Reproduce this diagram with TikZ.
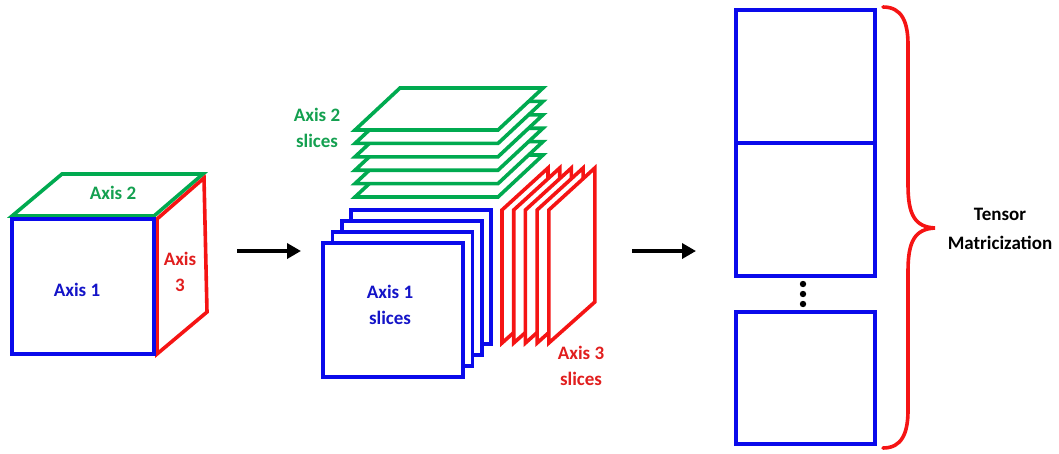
\documentclass[tikz,border=0pt]{standalone}
\usepackage{fontspec}
\setmainfont{Carlito}
\usetikzlibrary{arrows.meta}
\definecolor{cblue}{RGB}{10,10,235}
\definecolor{cgreen}{RGB}{0,170,80}
\definecolor{cred}{RGB}{245,20,20}
\definecolor{tblue}{RGB}{20,20,200}
\definecolor{tgreen}{RGB}{20,160,80}
\definecolor{tred}{RGB}{225,30,30}
\begin{document}
\begin{tikzpicture}[x=1pt,y=-1pt]
\tikzset{
  edge/.style={line width=3.6pt},
  blueface/.style={edge, draw=cblue, fill=white},
  greenface/.style={edge, draw=cgreen, fill=white},
  redface/.style={edge, draw=cred, fill=white},
  lbl/.style={font=\fontsize{19}{26}\selectfont\bfseries, align=center, inner sep=0pt},
  arr/.style={line width=4pt, -{Triangle[length=14pt,width=15pt]}},
  dot/.style={fill=black}
}
\useasboundingbox (0,0) rectangle (1059,453);

% --- cube ---
\draw[greenface] (12,216) -- (62,174) -- (203,174) -- (154,216) -- cycle;
\draw[redface] (157,219) -- (204,178) -- (207,312) -- (157,354) -- cycle;
\draw[blueface] (12,219) rectangle (154,354);
\node[lbl, text=tgreen] (a2) at (113,193) {Axis 2};
\node[lbl, text=tblue] (a1) at (77,290) {Axis 1};
\node[lbl, text=tred] (a3) at (180,272) {Axis\\3};

% --- arrow 1 ---
\coordinate (p1s) at (237,251);
\coordinate (p1e) at (301,251);
\draw[arr] (p1s) -- (p1e);

% --- green slices ---
\foreach \i in {5,4,3,2,1,0}{
  \draw[greenface] (355,130+13.4*\i) -- (400,88+13.4*\i) -- (543,88+13.4*\i) -- (498,130+13.4*\i) -- cycle;
}
% --- blue slices ---
\foreach \i in {3,2,1,0}{
  \draw[blueface] (323+9.4*\i,243-11*\i) rectangle (463+9.4*\i,377-11*\i);
}
% --- red slices ---
\foreach \i in {0,1,2,3,4}{
  \draw[redface] (502+11.7*\i,343) -- (502+11.7*\i,210) -- (548+11.7*\i,168) -- (548+11.7*\i,302) -- cycle;
}
\node[lbl, text=tgreen] (s2) at (317,128) {Axis 2\\slices};
\node[lbl, text=tblue] (s1) at (390,305) {Axis 1\\slices};
\node[lbl, text=tred] (s3) at (581,366) {Axis 3\\slices};

% --- arrow 2 ---
\coordinate (p2s) at (632,251);
\coordinate (p2e) at (696,251);
\draw[arr] (p2s) -- (p2e);

% --- matrix column ---
\draw[blueface] (736,10) rectangle (875,143);
\draw[blueface] (736,143) rectangle (875,276);
\draw[blueface] (736,312) rectangle (875,444);
\fill[dot] (803,284) circle (3.2);
\fill[dot] (803,294) circle (3.2);
\fill[dot] (803,304) circle (3.2);

% --- brace ---
\draw[edge, draw=cred, line cap=round]
  (883,7) .. controls (902,7) and (908,22) .. (908,45)
  -- (908,185) .. controls (908,215) and (915,227) .. (935,228)
  .. controls (915,229) and (908,241) .. (908,271)
  -- (908,410) .. controls (908,433) and (902,448) .. (883,448);
\node[lbl, font=\fontsize{19}{29}\selectfont\bfseries] (tm) at (1000,229) {Tensor\\Matricization};
\end{tikzpicture}
\end{document}
